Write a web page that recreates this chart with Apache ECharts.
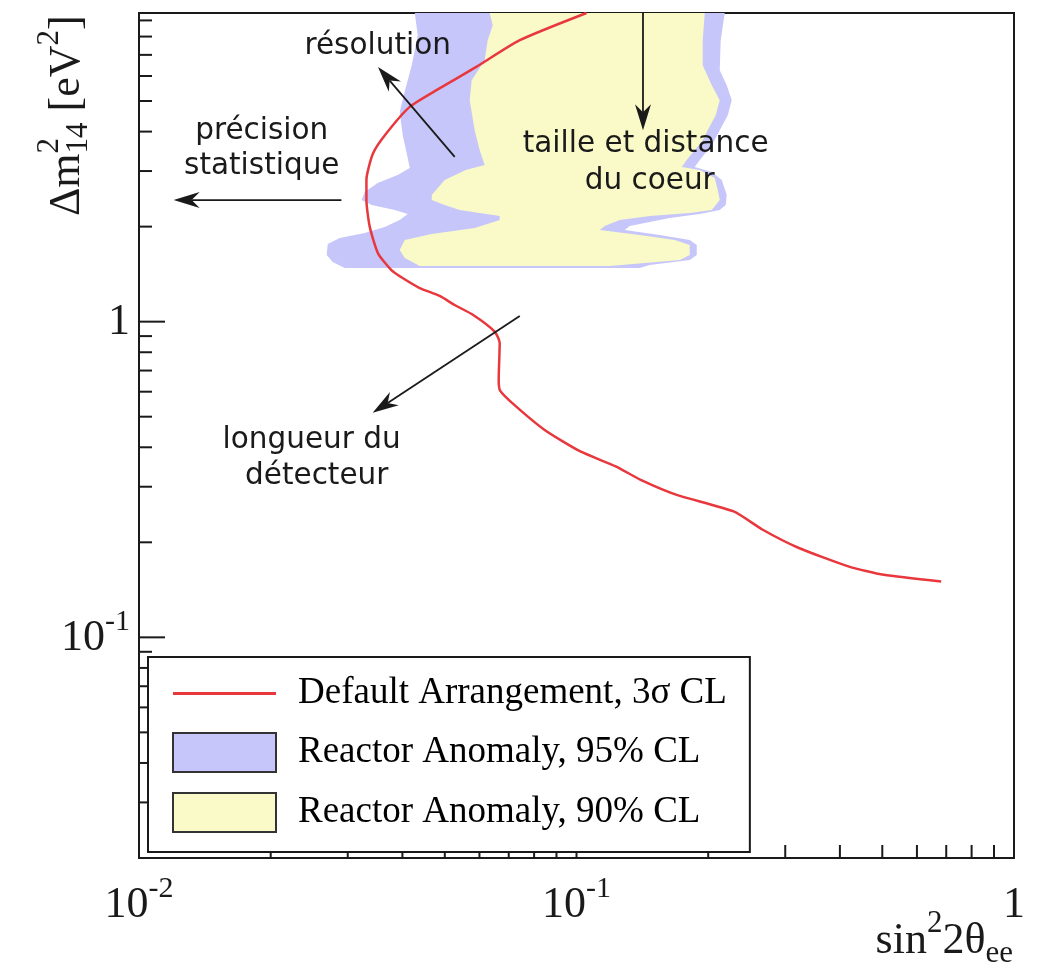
<!DOCTYPE html>
<html>
<head>
<meta charset="utf-8">
<script src="https://cdn.jsdelivr.net/npm/echarts@6/dist/echarts.min.js"></script>
<style>
  html, body { margin: 0; padding: 0; background: #fff; }
  #chart { width: 1037px; height: 966px; }
</style>
</head>
<body>
<div id="chart"></div>
<script>
// ---- axis ranges ----
const X_MIN = 0.01, X_MAX = 1;
const Y_MIN = 0.02, Y_MAX = 9.5;

// ---- ticks and tick labels ----
const xMajorTicks = [0.01, 0.1, 1];
const xMinorTicks = [0.02, 0.03, 0.04, 0.05, 0.06, 0.07, 0.08, 0.09,
                     0.2, 0.3, 0.4, 0.5, 0.6, 0.7, 0.8, 0.9];
const yMajorTicks = [0.1, 1];
const yMinorTicks = [0.03, 0.04, 0.05, 0.06, 0.07, 0.08, 0.09,
                     0.2, 0.3, 0.4, 0.5, 0.6, 0.7, 0.8, 0.9,
                     2, 3, 4, 5, 6, 7, 8, 9];
const xTickBase = ['10', '10', '1'];
const xTickExp  = ['-2', '-1', ''];
const yTickBase = ['10', '1'];
const yTickExp  = ['-1', ''];

// ---- series names ----
const NAME_SENS = 'Default Arrangement, 3\u03c3 CL';
const NAME_95 = 'Reactor Anomaly, 95% CL';
const NAME_90 = 'Reactor Anomaly, 90% CL';

// ---- 3 sigma sensitivity contour [sin^2 2theta, dm^2] ----
const sens3Sigma = [
  [0.1054, 9.5], [0.0742, 7.79], [0.0590, 6.41], [0.04785, 5.41], [0.04157, 4.79],
  [0.03677, 3.95], [0.03426, 3.41], [0.03310, 2.81], [0.03310, 2.43], [0.03368, 2.00],
  [0.03518, 1.646], [0.03775, 1.457], [0.04013, 1.372], [0.04381, 1.278], [0.04868, 1.206],
  [0.05266, 1.129], [0.05807, 1.050], [0.06501, 0.930], [0.06675, 0.856], [0.06640, 0.654],
  [0.0669, 0.605], [0.07208, 0.545], [0.08457, 0.454], [0.1021, 0.388], [0.1229, 0.348],
  [0.1402, 0.3155], [0.1694, 0.2828], [0.2287, 0.2505], [0.2665, 0.2192], [0.3214, 0.1922],
  [0.4181, 0.1678], [0.5038, 0.1579], [0.6817, 0.1504]
];

// ---- reactor anomaly allowed region, 95% CL (outline) ----
const anomaly95 = [
  [0.04269, 9.5], [0.04337, 8.077], [0.04202, 6.493], [0.04028, 5.217], [0.03944, 4.609],
  [0.04007, 3.898], [0.04114, 3.297], [0.04158, 3.066], [0.03902, 2.913], [0.03512, 2.748],
  [0.03280, 2.573], [0.03228, 2.428], [0.03403, 2.341], [0.03841, 2.257], [0.04114, 2.192],
  [0.03944, 2.098], [0.03644, 1.994], [0.03280, 1.909], [0.02876, 1.841], [0.02700, 1.762],
  [0.02686, 1.626], [0.02772, 1.545], [0.02953, 1.479], [0.1395, 1.479], [0.1470, 1.512],
  [0.1815, 1.568], [0.1883, 1.626], [0.1883, 1.749], [0.1815, 1.814], [0.1550, 1.881],
  [0.1289, 1.951], [0.1323, 2.008], [0.1470, 2.068], [0.1633, 2.129], [0.1913, 2.192],
  [0.2125, 2.257], [0.2193, 2.341], [0.2205, 2.518], [0.2148, 2.809], [0.2038, 2.977],
  [0.1863, 3.088], [0.1913, 3.249], [0.2038, 3.624], [0.2125, 4.043], [0.2217, 4.510],
  [0.2264, 5.030], [0.2205, 5.611], [0.2125, 6.260], [0.2136, 7.788], [0.2182, 9.5]
];

// ---- reactor anomaly allowed region, 90% CL (outline) ----
const anomaly90 = [
  [0.06333, 9.5], [0.06434, 8.688], [0.06266, 7.788], [0.06168, 6.733], [0.05760, 5.819],
  [0.05700, 5.030], [0.05852, 4.043], [0.06008, 3.494], [0.06168, 3.133], [0.05581, 3.021],
  [0.04997, 2.809], [0.04668, 2.518], [0.04668, 2.428], [0.04997, 2.341], [0.05407, 2.257],
  [0.06675, 2.160], [0.06675, 2.098], [0.05852, 1.979], [0.04668, 1.895], [0.04050, 1.814],
  [0.03944, 1.686], [0.04050, 1.591], [0.04383, 1.501], [0.1191, 1.501], [0.1722, 1.568],
  [0.1815, 1.626], [0.1815, 1.749], [0.1677, 1.814], [0.1395, 1.881], [0.1130, 1.951],
  [0.1160, 2.008], [0.1255, 2.098], [0.1470, 2.160], [0.1815, 2.208], [0.2038, 2.257],
  [0.2125, 2.428], [0.2103, 2.611], [0.2070, 2.850], [0.1913, 3.021], [0.1740, 3.088],
  [0.1786, 3.249], [0.1863, 3.494], [0.1943, 3.758], [0.1995, 4.043], [0.2081, 4.510],
  [0.2125, 5.030], [0.2038, 5.611], [0.1943, 6.493], [0.1943, 7.788], [0.1964, 9.5]
];

// ---- annotation arrows: tail -> head ----
const arrowFrom = [[0.02902, 2.428], [0.05268, 3.328], [0.1419, 9.5], [0.07418, 1.0424]];
const arrowTo   = [[0.01200, 2.428], [0.03518, 6.413], [0.1419, 4.043], [0.03420, 0.5141]];

// ---- annotation texts ----
const noteX = [0.03512, 0.01908, 0.01908, 0.1439, 0.1470, 0.02481, 0.02548];
const noteY = [7.457, 4.013, 3.110, 3.651, 2.788, 0.4194, 0.3225];
const noteText = ['r\u00e9solution', 'pr\u00e9cision', 'statistique',
                  'taille et distance', 'du coeur', 'longueur du', 'd\u00e9tecteur'];

// ---- styling ----
const SERIF = '"Liberation Serif", "Times New Roman", serif';
const SANS = '"DejaVu Sans", Verdana, sans-serif';
const INK = '#1a1a1a';
const RED = '#e8383d';
const BLUE = '#c6c6fa';
const YELLOW = '#fafac8';
const LABEL_SIZE = 44, EXP_SIZE = 30;
// legend key for the contour: a 3px bar centred in a 103x39 box
const LINE_KEY = 'path://M0,0M103,39M0,18H103V21H0Z';

const measureCtx = document.createElement('canvas').getContext('2d');
function textWidth(t, size, family) {
  measureCtx.font = size + 'px ' + family;
  return measureCtx.measureText(t).width;
}

function regionSeries(name, pts, color, z) {
  return {
    name: name, type: 'custom', coordinateSystem: 'cartesian2d', clip: true, z: z,
    silent: true, animation: false,
    itemStyle: { color: color },
    encode: { x: 0, y: 1 },
    data: pts,
    renderItem: function (params, api) {
      if (params.dataIndex !== 0) return null;
      return {
        type: 'polygon',
        shape: { points: pts.map(function (p) { return api.coord(p); }) },
        style: { fill: color }
      };
    }
  };
}

function tickSeries(vals, axis, len) {
  return {
    type: 'custom', coordinateSystem: 'cartesian2d', clip: false, z: 6, silent: true,
    animation: false,
    encode: { x: 0, y: 1 },
    data: vals.map(function (v) { return axis === 'x' ? [v, Y_MIN] : [X_MIN, v]; }),
    renderItem: function (params, api) {
      const p = api.coord([api.value(0), api.value(1)]);
      const shape = axis === 'x'
        ? { x1: p[0], y1: p[1], x2: p[0], y2: p[1] - len }
        : { x1: p[0], y1: p[1], x2: p[0] + len, y2: p[1] };
      return { type: 'line', shape: shape, style: { stroke: INK, lineWidth: 2 } };
    }
  };
}

function tickLabelSeries(vals, bases, exps, axis) {
  return {
    type: 'custom', coordinateSystem: 'cartesian2d', clip: false, z: 6, silent: true,
    animation: false,
    encode: { x: 0, y: 1 },
    data: vals.map(function (v) { return axis === 'x' ? [v, Y_MIN] : [X_MIN, v]; }),
    renderItem: function (params, api) {
      const i = params.dataIndex;
      const p = api.coord([api.value(0), api.value(1)]);
      const wb = textWidth(bases[i], LABEL_SIZE, SERIF);
      const we = exps[i] ? textWidth(exps[i], EXP_SIZE, SERIF) : 0;
      let left, cy;
      if (axis === 'x') { left = p[0] - (wb + we) / 2; cy = p[1] + 47; }
      else { left = p[0] - 9 - (wb + we); cy = p[1] + 1; }
      const children = [{
        type: 'text', x: left, y: cy,
        style: { text: bases[i], fontSize: LABEL_SIZE, fontFamily: SERIF, fill: INK,
                 align: 'left', verticalAlign: 'middle' }
      }];
      if (exps[i]) {
        children.push({
          type: 'text', x: left + wb, y: cy - 16,
          style: { text: exps[i], fontSize: EXP_SIZE, fontFamily: SERIF, fill: INK,
                   align: 'left', verticalAlign: 'middle' }
        });
      }
      return { type: 'group', children: children };
    }
  };
}

const arrowSeries = {
  type: 'custom', coordinateSystem: 'cartesian2d', clip: false, z: 7, silent: true,
  animation: false,
  encode: { x: [0, 2], y: [1, 3] },
  data: arrowFrom.map(function (a, i) { return [a[0], a[1], arrowTo[i][0], arrowTo[i][1]]; }),
  renderItem: function (params, api) {
    const a = api.coord([api.value(0), api.value(1)]);
    const b = api.coord([api.value(2), api.value(3)]);
    const dx = b[0] - a[0], dy = b[1] - a[1];
    const L = Math.sqrt(dx * dx + dy * dy), ux = dx / L, uy = dy / L;
    const nx = -uy, ny = ux;
    const head = 26, half = 8, notch = 18;
    const w1 = [b[0] - ux * head + nx * half, b[1] - uy * head + ny * half];
    const w2 = [b[0] - ux * head - nx * half, b[1] - uy * head - ny * half];
    const n = [b[0] - ux * notch, b[1] - uy * notch];
    return {
      type: 'group',
      children: [
        { type: 'line', shape: { x1: a[0], y1: a[1], x2: n[0], y2: n[1] },
          style: { stroke: INK, lineWidth: 1.8 } },
        { type: 'polygon', shape: { points: [b, w1, n, w2] }, style: { fill: INK } }
      ]
    };
  }
};

const noteSeries = {
  type: 'custom', coordinateSystem: 'cartesian2d', clip: false, z: 8, silent: true,
  animation: false,
  encode: { x: 0, y: 1 },
  data: noteX.map(function (x, i) { return [x, noteY[i]]; }),
  renderItem: function (params, api) {
    const p = api.coord([api.value(0), api.value(1)]);
    return {
      type: 'text', x: p[0], y: p[1],
      style: { text: noteText[params.dataIndex], fontSize: 29.5, fontFamily: SANS, fill: INK,
               align: 'center', verticalAlign: 'middle' }
    };
  }
};

// axis titles built from pieces (super/subscripts stacked)
function titlePieces(parts) {
  const out = [];
  let cursor = 0, stackW = 0;
  parts.forEach(function (pt) {
    const w = textWidth(pt.t, pt.size, SERIF);
    out.push({
      type: 'text', x: cursor, y: pt.dy,
      style: { text: pt.t, fontSize: pt.size, fontFamily: SERIF, fill: INK,
               align: 'left', verticalAlign: 'middle' }
    });
    if (pt.stack) { stackW = w; }
    else { cursor += Math.max(w, stackW); stackW = 0; }
  });
  return { children: out, width: cursor };
}

const yTitleParts = [
  { t: '\u0394m', size: 44, dy: 0 },
  { t: '2', size: 31, dy: -17, stack: true },
  { t: '14', size: 31, dy: 12 },
  { t: ' [eV', size: 44, dy: 0 },
  { t: '2', size: 31, dy: -17 },
  { t: ']', size: 44, dy: 0 }
];
const xTitleParts = [
  { t: 'sin', size: 44, dy: 0 },
  { t: '2', size: 31, dy: -17 },
  { t: '2\u03b8', size: 44, dy: 0 },
  { t: 'ee', size: 31, dy: 13 }
];
const yTitle = titlePieces(yTitleParts);
const xTitle = titlePieces(xTitleParts);

const chart = echarts.init(document.getElementById('chart'), null, { renderer: 'canvas' });
chart.setOption({
  animation: false,
  backgroundColor: '#fff',
  grid: {
    left: 139, top: 13, width: 875, height: 845,
    show: true, borderColor: INK, borderWidth: 2, backgroundColor: 'transparent'
  },
  xAxis: {
    type: 'log', logBase: 10, min: X_MIN, max: X_MAX,
    axisLine: { show: false }, axisTick: { show: false },
    axisLabel: { show: false }, splitLine: { show: false }
  },
  yAxis: {
    type: 'log', logBase: 10, min: Y_MIN, max: Y_MAX,
    axisLine: { show: false }, axisTick: { show: false },
    axisLabel: { show: false }, splitLine: { show: false }
  },
  legend: {
    orient: 'vertical', left: 148, top: 657, z: 20,
    padding: [17, 23, 19, 24],
    itemWidth: 103, itemHeight: 39, itemGap: 19,
    backgroundColor: '#fff', borderColor: INK, borderWidth: 2,
    selectedMode: false,
    textStyle: { fontFamily: SERIF, fontSize: 37, color: '#000', padding: [0, 0, 0, 17] },
    data: [
      { name: NAME_SENS, icon: LINE_KEY,
        itemStyle: { color: RED, borderWidth: 0 }, lineStyle: { color: RED, width: 3 } },
      { name: NAME_95, icon: 'rect', itemStyle: { color: BLUE, borderColor: '#333', borderWidth: 2 } },
      { name: NAME_90, icon: 'rect', itemStyle: { color: YELLOW, borderColor: '#333', borderWidth: 2 } }
    ]
  },
  graphic: [
    { type: 'group', x: 67, y: 216, rotation: Math.PI / 2, children: yTitle.children },
    { type: 'group', x: 1013 - xTitle.width, y: 941, children: xTitle.children }
  ],
  series: [
    regionSeries(NAME_95, anomaly95, BLUE, 2),
    regionSeries(NAME_90, anomaly90, YELLOW, 3),
    {
      name: NAME_SENS, type: 'line', data: sens3Sigma, z: 5,
      symbol: 'none', showSymbol: false, clip: true, animation: false, smooth: 0.2,
      lineStyle: { color: RED, width: 2.5 }, itemStyle: { color: RED }
    },
    arrowSeries,
    noteSeries,
    tickSeries(xMinorTicks, 'x', 13),
    tickSeries(xMajorTicks, 'x', 26),
    tickSeries(yMinorTicks, 'y', 13),
    tickSeries(yMajorTicks, 'y', 26),
    tickLabelSeries(xMajorTicks, xTickBase, xTickExp, 'x'),
    tickLabelSeries(yMajorTicks, yTickBase, yTickExp, 'y')
  ]
});
</script>
</body>
</html>
